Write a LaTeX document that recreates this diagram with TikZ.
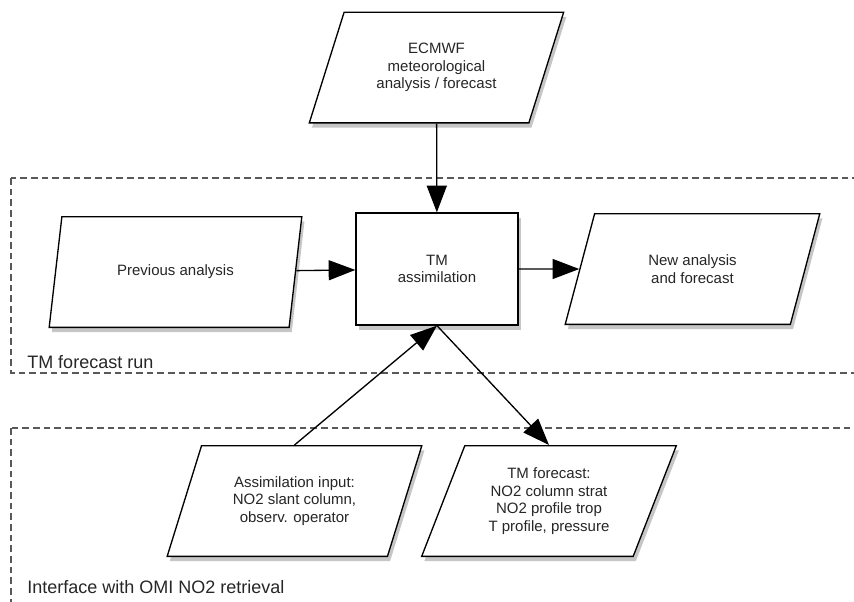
\documentclass[tikz,border=0pt]{standalone}
\usepackage{fontspec}
\setmainfont{Liberation Sans}
\usetikzlibrary{shapes.geometric,arrows.meta,shadows}
\tikzstyle{data}=[trapezium, trapezium left angle=65, trapezium right angle=115, trapezium stretches=true, minimum width=191pt, minimum height=83pt, draw=black, line width=1, fill=white, align=center, inner sep=0pt, text=black!85, font=\fontsize{11.25}{13.1}\selectfont, drop shadow={opacity=0.45, shadow xshift=2pt, shadow yshift=-3.5pt}]
\tikzstyle{proc}=[rectangle, minimum width=121.5pt, minimum height=84pt, draw=black, line width=1, fill=white, align=center, inner sep=0pt, text=black!85, font=\fontsize{11.25}{13.1}\selectfont, drop shadow={opacity=0.45, shadow xshift=2pt, shadow yshift=-3.5pt}]
\tikzstyle{l1}=[line width=1, -{Triangle[length=20pt, width=15pt]}]
\tikzstyle{grp}=[draw=black!65, line width=1.1, dash pattern=on 5pt off 3pt]
\tikzstyle{glabel}=[anchor=west, inner sep=0pt, text=black!85, font=\fontsize{13.5}{16}\selectfont]

\begin{document}
\begin{tikzpicture}[x=0.75pt, y=-0.75pt]
    \useasboundingbox (0,0) rectangle (854,601);
    \clip (0,0) rectangle (854,601);

    \draw[grp] (11,178) rectangle (880,373);
    \draw[grp] (11,428) rectangle (880,640);
    \node[glabel] at (27,362) (run) {TM forecast run};
    \node[glabel] at (27,587) (omi) {Interface with OMI NO2 retrieval};

    \node[data] at (436.5,67.5) (ecmwf) {ECMWF\\meteorological\\analysis / forecast};
    \node[data] at (175.5,272) (prev) {Previous analysis};
    \node[proc] at (437,269) (tm) {TM\\assimilation};
    \node[data] at (692.5,269) (new) {New analysis\\and forecast};
    \node[data] at (294.5,501) (ain) {Assimilation input:\\NO2 slant column,\\observ. operator};
    \node[data] at (549,501) (tmf) {TM forecast:\\NO2 column strat\\NO2 profile trop\\T profile, pressure};

    \draw[l1] (ecmwf) -- (tm);
    \draw[l1] (prev) -- (tm);
    \draw[l1] (tm) -- (new);
    \draw[l1] (ain.center |- ain.north) -- (tm.south);
    \draw[l1] (tm.south) -- (tmf.center |- tmf.north);
\end{tikzpicture}
\end{document}
